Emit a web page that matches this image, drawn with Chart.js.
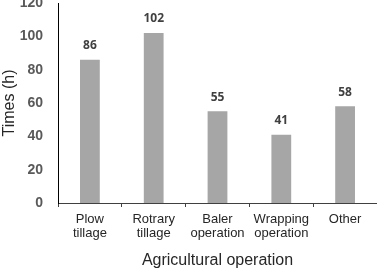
<!DOCTYPE html>
<html>
<head>
<meta charset="utf-8">
<script src="https://cdn.jsdelivr.net/npm/chart.js@4"></script>
<style>
  html, body { margin: 0; padding: 0; background: #fff; }
  #wrap { width: 377px; height: 273px; }
</style>
</head>
<body>
<div id="wrap"><canvas id="barChart" width="377" height="273"></canvas></div>
<script>
// data
const categories = [['Plow', 'tillage'], ['Rotrary', 'tillage'], ['Baler', 'operation'], ['Wrapping', 'operation'], ['Other']];
const times = [86, 102, 55, 41, 58];
const yTicks = [0, 20, 40, 60, 80, 100, 120];

// value labels above each bar
const valueLabels = {
    id: 'valueLabels',
    afterDatasetsDraw(chart) {
        const ctx = chart.ctx;
        const meta = chart.getDatasetMeta(0);
        ctx.save();
        ctx.font = 'bold 12px "Open Sans", sans-serif';
        ctx.fillStyle = '#404040';
        ctx.textAlign = 'center';
        ctx.textBaseline = 'middle';
        meta.data.forEach((bar, i) => {
            ctx.fillText(times[i], bar.x, bar.y - 14);
        });
        ctx.restore();
    }
};

const ctxBar = document.getElementById('barChart').getContext('2d');
const barChart = new Chart(ctxBar, {
    type: 'bar',
    data: {
        labels: categories,
        datasets: [{
            data: times,
            backgroundColor: '#a6a6a6',
            categoryPercentage: 1,
            barPercentage: 0.31
        }]
    },
    options: {
        responsive: false,
        animation: false,
        layout: { padding: { top: 3, right: 0, bottom: 0, left: 0 } },
        plugins: {
            legend: { display: false },
            tooltip: { enabled: false }
        },
        scales: {
            x: {
                grid: { drawOnChartArea: false, drawTicks: true, tickLength: 4, color: '#404040' },
                border: { color: '#404040', width: 1 },
                ticks: {
                    color: '#262626',
                    font: { family: '"Liberation Sans", Arial, sans-serif', size: 13, lineHeight: 1.12 },
                    padding: 5,
                    maxRotation: 0,
                    autoSkip: false
                },
                title: {
                    display: true,
                    text: 'Agricultural operation',
                    color: '#262626',
                    font: { family: '"Liberation Sans", Arial, sans-serif', size: 16 },
                    padding: { top: 6, bottom: 3 }
                },
                afterFit(scale) { scale.height = 70; }
            },
            y: {
                min: 0,
                max: 120,
                afterBuildTicks(scale) { scale.ticks = yTicks.map(v => ({ value: v })); },
                grid: { display: false, drawTicks: false },
                border: { color: '#000000', width: 1 },
                ticks: {
                    color: '#595959',
                    font: { family: '"Liberation Sans", Arial, sans-serif', size: 14, weight: 'bold' },
                    padding: 15
                },
                title: {
                    display: true,
                    text: 'Times (h)',
                    color: '#262626',
                    font: { family: '"Liberation Sans", Arial, sans-serif', size: 16 },
                    padding: 0
                },
                afterFit(scale) {
                    scale.width = 58;
                    scale.paddingTop = 0;
                    scale.paddingBottom = 0;
                }
            }
        }
    },
    plugins: [valueLabels]
});
</script>
</body>
</html>
